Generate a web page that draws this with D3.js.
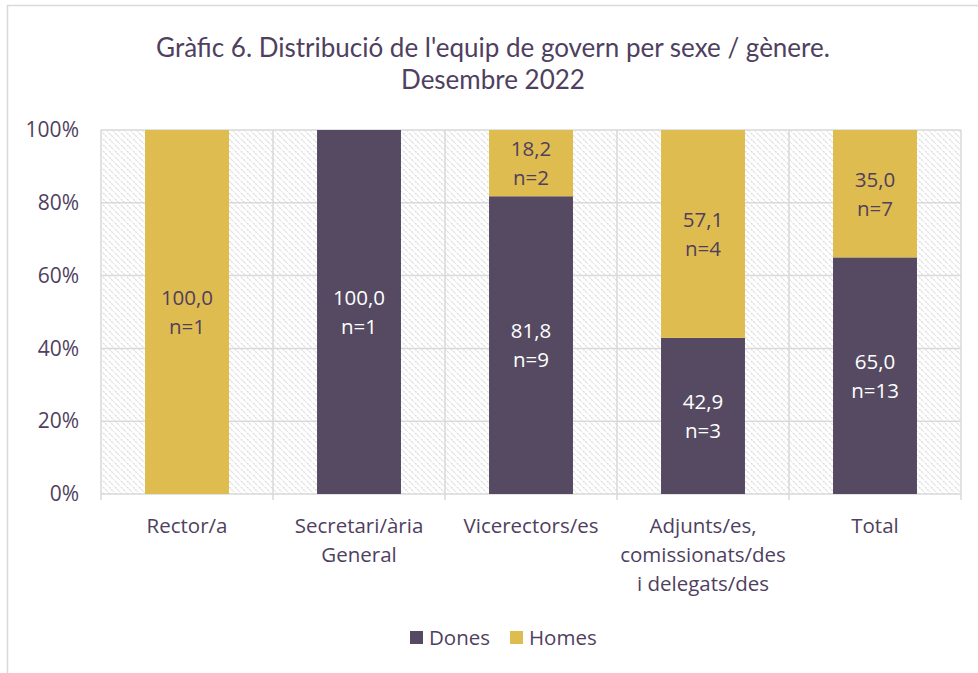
<!DOCTYPE html>
<html><head><meta charset="utf-8">
<script src="https://cdn.jsdelivr.net/npm/d3@7"></script>
<style>body{margin:0;background:#fff;}svg{display:block;}</style>
</head><body>
<script>
const categories = [["Rector/a"],["Secretari/ària","General"],["Vicerectors/es"],["Adjunts/es,","comissionats/des","i delegats/des"],["Total"]];
const catKeys = ["Rector/a","Secretari/ària General","Vicerectors/es","Adjunts/es, comissionats/des i delegats/des","Total"];
const dones = [0, 100.0, 81.8, 42.9, 65.0];
const homes = [100.0, 0, 18.2, 57.1, 35.0];
const donesN = [0, 1, 9, 3, 13];
const homesN = [1, 0, 2, 4, 7];
const yTicks = [0, 20, 40, 60, 80, 100];
const titleLines = ["Gràfic 6. Distribució de l'equip de govern per sexe / gènere.", "Desembre 2022"];
const seriesNames = ["Dones", "Homes"];
const colors = {Dones: "#554a62", Homes: "#dfbc4f"};
const textColor = "#4f3f60";
const font = "'Open Sans', Lato, sans-serif";
const titleFont = "Lato, 'Open Sans', sans-serif";
const fs = 20.5;

const W = 978, H = 673;
const svg = d3.select("body").append("svg").attr("width", W).attr("height", H);

const defs = svg.append("defs");
const pat = defs.append("pattern").attr("id","hatch").attr("patternUnits","userSpaceOnUse")
  .attr("width",6).attr("height",6);
pat.append("rect").attr("width",6).attr("height",6).attr("fill","#fff");
pat.append("path").attr("d","M-1,-1 L7,7 M-4,2 L1,7 M2,-4 L7,1").attr("stroke","#dadada").attr("stroke-width",1.3).attr("stroke-dasharray","2,1");

// outer border
svg.append("path").attr("d", `M7.5,${H} L7.5,5.5 L${W},5.5`).attr("fill","none").attr("stroke","#d9d9d9").attr("stroke-width",1.5);

const m = {left:101, right:961, top:130, bottom:494};
const x = d3.scaleBand().domain(catKeys).range([m.left, m.right]).paddingInner(0.512).paddingOuter(0.256);
const xOuter = d3.scaleBand().domain(catKeys).range([m.left, m.right]);
const y = d3.scaleLinear().domain([0,100]).range([m.bottom, m.top]);

// plot background
svg.append("rect").attr("x",m.left).attr("y",m.top).attr("width",m.right-m.left).attr("height",m.bottom-m.top).attr("fill","url(#hatch)");

// gridlines
svg.append("g").selectAll("line").data(yTicks).join("line")
  .attr("x1",m.left).attr("x2",m.right).attr("y1",d=>y(d)).attr("y2",d=>y(d))
  .attr("stroke","#d9d9d9").attr("stroke-width",1.5);
const bounds = catKeys.map(k=>xOuter(k)).concat([m.right]);
svg.append("g").selectAll("line").data(bounds).join("line")
  .attr("x1",d=>d).attr("x2",d=>d).attr("y1",m.top).attr("y2",m.bottom+6)
  .attr("stroke","#d9d9d9").attr("stroke-width",1.5);

// y axis labels
const yAxis = d3.axisLeft(y).tickValues(yTicks).tickFormat(d=>d+"%").tickSize(0).tickPadding(22);
const gy = svg.append("g").attr("transform",`translate(${m.left},0)`).call(yAxis);
gy.select(".domain").remove();
gy.selectAll("text").attr("font-family",font).attr("font-size",21).attr("fill",textColor);

// bars
const data = catKeys.map((k,i)=>({k, Dones:dones[i], Homes:homes[i], dN:donesN[i], hN:homesN[i]}));
const stack = d3.stack().keys(seriesNames)(data);
const gBars = svg.append("g");
stack.forEach(s=>{
  gBars.selectAll(null).data(s).join("rect")
    .attr("x",d=>x(d.data.k)).attr("width",x.bandwidth())
    .attr("y",d=>y(d[1])).attr("height",d=>y(d[0])-y(d[1]))
    .attr("fill",colors[s.key]);
});

// labels
const fmt = v => v.toFixed(1).replace(".", ",");
stack.forEach(s=>{
  const g = svg.append("g");
  s.forEach(d=>{
    const v = d[1]-d[0];
    if (v <= 0) return;
    const cx = x(d.data.k)+x.bandwidth()/2;
    const cy = (y(d[0])+y(d[1]))/2;
    const n = s.key==="Dones" ? d.data.dN : d.data.hN;
    const t = g.append("text").attr("text-anchor","middle")
      .attr("font-family",font).attr("font-size",fs)
      .attr("fill", s.key==="Dones" ? "#ffffff" : textColor);
    t.append("tspan").attr("x",cx).attr("y",cy-7).text(fmt(v));
    t.append("tspan").attr("x",cx).attr("y",cy+22).text("n="+n);
  });
});

// x labels
const gx = svg.append("g");
categories.forEach((lines,i)=>{
  const cx = xOuter(catKeys[i]) + xOuter.bandwidth()/2;
  const t = gx.append("text").attr("text-anchor","middle").attr("font-family",font).attr("font-size",fs).attr("fill",textColor);
  lines.forEach((l,j)=>t.append("tspan").attr("x",cx).attr("y",533+j*29).text(l));
});

// title
const tt = svg.append("text").attr("text-anchor","middle").attr("font-family",titleFont).attr("font-size",26).attr("fill",textColor);
titleLines.forEach((l,j)=>tt.append("tspan").attr("x",493).attr("y",57+j*32).text(l));

// legend
const leg = svg.append("g");
const legItems = [{n:"Dones",x:410},{n:"Homes",x:510}];
legItems.forEach(it=>{
  leg.append("rect").attr("x",it.x).attr("y",631).attr("width",13).attr("height",13).attr("fill",colors[it.n]);
  leg.append("text").attr("x",it.x+19).attr("y",645).attr("font-family",font).attr("font-size",fs).attr("fill",textColor).text(it.n);
});
</script>
</body></html>
